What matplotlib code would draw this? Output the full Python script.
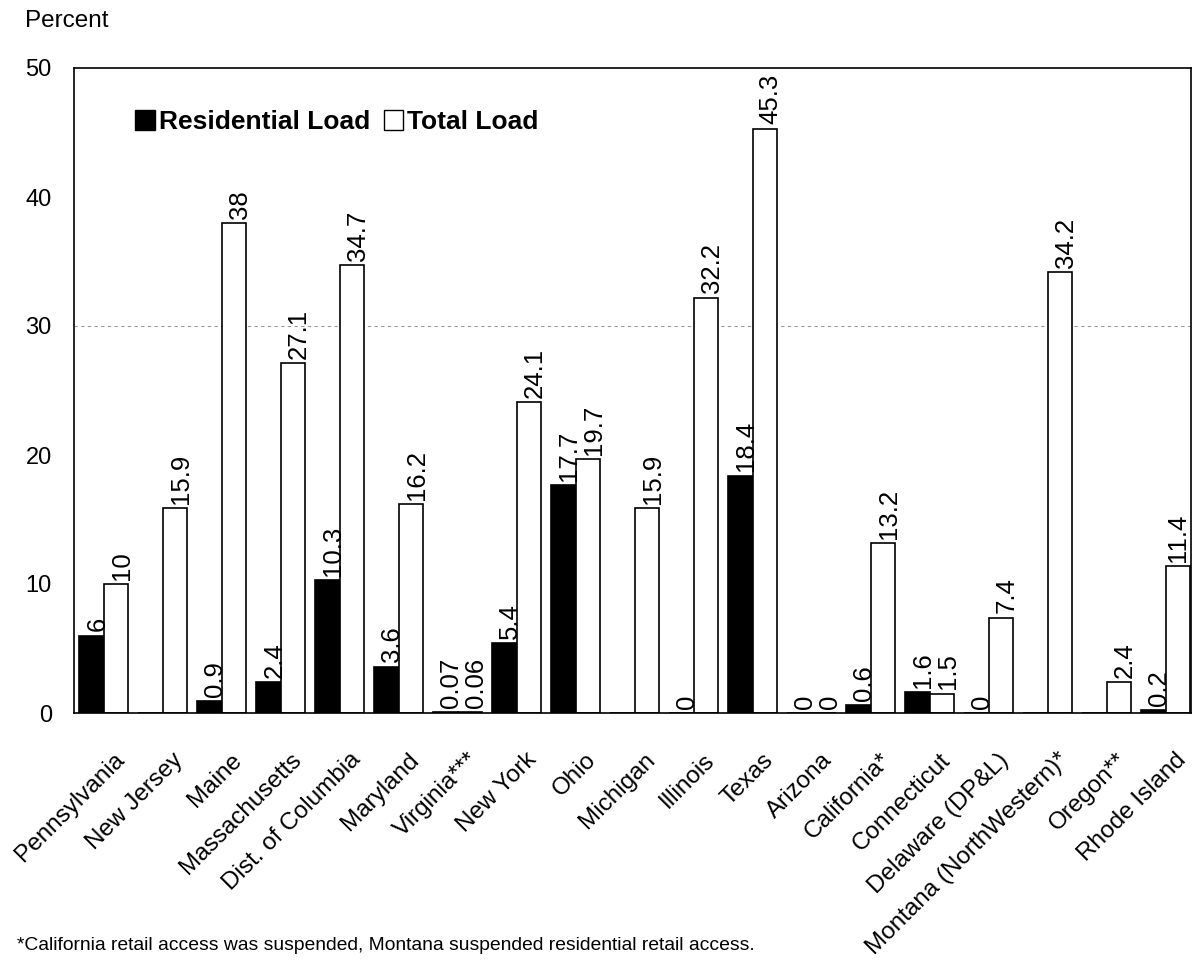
import matplotlib
matplotlib.use("Agg")
import matplotlib.pyplot as plt
import matplotlib.transforms as mtransforms
from matplotlib.patches import Patch
import numpy as np

states = [
    "Pennsylvania", "New Jersey", "Maine", "Massachusetts", "Dist. of Columbia",
    "Maryland", "Virginia***", "New York", "Ohio", "Michigan", "Illinois", "Texas",
    "Arizona", "California*", "Connecticut", "Delaware (DP&L)",
    "Montana (NorthWestern)*", "Oregon**", "Rhode Island",
]
# None = no residential figure reported (bar drawn flat, no label)
residential = [6, None, 0.9, 2.4, 10.3, 3.6, 0.07, 5.4, 17.7, None, 0, 18.4,
               0, 0.6, 1.6, 0, None, None, 0.2]
total = [10, 15.9, 38, 27.1, 34.7, 16.2, 0.06, 24.1, 19.7, 15.9, 32.2, 45.3,
         0, 13.2, 1.5, 7.4, 34.2, 2.4, 11.4]
y_ticks = [0, 10, 20, 30, 40, 50]

footnote = ("*California retail access was suspended, Montana suspended "
            "residential retail access.")

plt.rcParams["font.family"] = ["Liberation Sans", "DejaVu Sans"]

W, H = 1193, 960
fig = plt.figure(figsize=(W / 100, H / 100), dpi=100)
fig.patch.set_facecolor("white")
ax = fig.add_axes([74 / W, 1 - 713 / H, 1117 / W, 645 / H])

x = np.arange(len(states))
w = 0.415
res_h = [v if v is not None else 0 for v in residential]
bars_r = ax.bar(x - w / 2, res_h, w, color="black", edgecolor="black",
                linewidth=1.2, zorder=2)
bars_t = ax.bar(x + w / 2, total, w, color="white", edgecolor="black",
                linewidth=1.2, zorder=2)

# value labels, rotated like the source
last = len(states) - 1
for bars, vals in ((bars_r, residential), (bars_t, total)):
    for i, (bar, v) in enumerate(zip(bars, vals)):
        if v is None:
            continue
        if bars is bars_t and i == last:
            # keep the rightmost label inside the figure
            ax.annotate(f"{v:g}", (bar.get_x() + bar.get_width(), bar.get_height()),
                        xytext=(0, 3), textcoords="offset points", rotation=90,
                        ha="right", va="bottom", fontsize=18.5, zorder=3)
            continue
        ax.annotate(f"{v:g}", (bar.get_x() + bar.get_width() / 2, bar.get_height()),
                    xytext=(4, 3), textcoords="offset points", rotation=90,
                    ha="center", va="bottom", fontsize=18.5, zorder=3)

ax.axhline(30, color="#9a9a9a", linewidth=0.8, linestyle=(0, (3, 3)), zorder=0)

ax.set_xlim(-0.508, 18.424)
ax.set_ylim(0, 50)
ax.set_yticks(y_ticks)
ax.tick_params(axis="y", length=0, pad=16, labelsize=17)

ax.set_xticks(x)
ax.set_xticklabels(states, rotation=45, rotation_mode="anchor",
                   ha="right", va="baseline", fontsize=17.5)
ax.tick_params(axis="x", length=0, pad=0)
shift = mtransforms.ScaledTranslation(21 / 100, -48 / 100, fig.dpi_scale_trans)
for lbl in ax.get_xticklabels():
    lbl.set_transform(lbl.get_transform() + shift)

for sp in ax.spines.values():
    sp.set_linewidth(1.2)
    sp.set_color("black")

handles = [Patch(facecolor="black", edgecolor="black", label="Residential Load"),
           Patch(facecolor="white", edgecolor="black", label="Total Load")]
ax.legend(handles=handles, ncol=2, loc="center left", bbox_to_anchor=(0.055, 0.916),
          frameon=False, prop={"weight": "bold", "size": 19},
          handlelength=0.75, handleheight=0.75, handletextpad=0.15,
          columnspacing=0.5, borderpad=0, borderaxespad=0)

fig.text(25 / W, 1 - 10 / H, "Percent", fontsize=17.5, va="top")
fig.text(17 / W, 1 - 950 / H, footnote, fontsize=13.9, va="baseline",
         family=["Liberation Sans Narrow", "Liberation Sans"])

fig.savefig("out.png", dpi=100)
